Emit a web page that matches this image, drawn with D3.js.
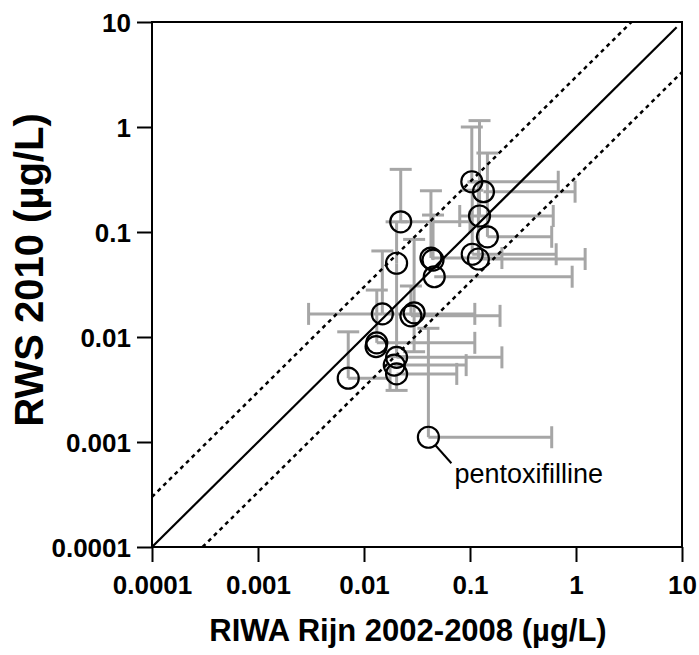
<!DOCTYPE html>
<html>
<head>
<meta charset="utf-8">
<script src="https://cdn.jsdelivr.net/npm/d3@7"></script>
<style>
  body { margin: 0; background: #fff; }
  text { font-family: "Liberation Sans", Arial, sans-serif; }
</style>
</head>
<body>
<svg id="chart"></svg>
<script>
// Data (µg/L)
const riwa    = [0.104, 0.134, 0.123, 0.146, 0.105, 0.12, 0.0222, 0.0203, 0.0428, 0.0448, 0.046, 0.0149, 0.0277, 0.0297, 0.0132, 0.013, 0.0203, 0.0193, 0.0203, 0.0071, 0.0405];
const rws     = [0.301, 0.242, 0.142, 0.09, 0.0614, 0.0553, 0.125, 0.0504, 0.0565, 0.054, 0.0375, 0.0166, 0.0159, 0.017, 0.0088, 0.0081, 0.0064, 0.0054, 0.00445, 0.00405, 0.00111];
const riwaMin = [null, null, 0.08, null, null, null, null, null, null, null, null, 0.003, null, null, null, null, null, null, null, null, null];
const riwaMax = [0.68, 0.98, 0.61, 0.59, 0.65, 1.22, 0.1, null, 0.2, null, 0.92, 0.111, 0.192, null, 0.111, null, 0.2, 0.092, 0.075, 0.0176, 0.59];
const rwsMin  = [null, null, null, null, null, null, null, 0.0065, null, null, null, null, null, 0.00724, null, null, null, null, 0.0031, null, null];
const rwsMax  = [1.0, null, 1.15, 0.565, 0.25, 0.3, 0.395, 0.125, 0.247, 0.145, null, 0.066, 0.0306, 0.085, 0.028, null, null, null, null, 0.0112, 0.0121];
const labels  = ["", "", "", "", "", "", "", "", "", "", "", "", "", "", "", "", "", "", "", "", "pentoxifilline"];

const tickValues = [0.0001, 0.001, 0.01, 0.1, 1, 10];
const xLabel = "RIWA Rijn 2002-2008 (µg/L)";
const yLabel = "RWS 2010 (µg/L)";

// Configuration
let width = 699, height = 655;
let marginLeft = 152, marginRight = 17, marginTop = 22, marginBottom = 108;
let tickLen = 15;
let capHalf = 11;
let barColor = "#a6a6a6";

const x = d3.scaleLog([0.0001, 10], [marginLeft, width - marginRight]);
const y = d3.scaleLog([0.0001, 10], [height - marginBottom, marginTop]);

const svg = d3.select("#chart")
    .attr("width", width)
    .attr("height", height)
    .attr("viewBox", [0, 0, width, height]);

const I = d3.range(riwa.length);

// error bars
const bars = svg.append("g")
    .attr("stroke", barColor)
    .attr("stroke-width", 3)
    .attr("fill", "none");

I.forEach(i => {
    const cx = x(riwa[i]), cy = y(rws[i]);
    [riwaMin[i], riwaMax[i]].forEach(v => {
        if (v == null) return;
        bars.append("line").attr("x1", cx).attr("x2", x(v)).attr("y1", cy).attr("y2", cy);
        bars.append("line").attr("x1", x(v)).attr("x2", x(v)).attr("y1", cy - capHalf).attr("y2", cy + capHalf);
    });
    [rwsMin[i], rwsMax[i]].forEach(v => {
        if (v == null) return;
        bars.append("line").attr("x1", cx).attr("x2", cx).attr("y1", cy).attr("y2", y(v));
        bars.append("line").attr("x1", cx - capHalf).attr("x2", cx + capHalf).attr("y1", y(v)).attr("y2", y(v));
    });
});

// 1:1 line and factor-3 lines
svg.append("line")
    .attr("x1", x(0.0001)).attr("y1", y(0.0001))
    .attr("x2", x(8.9)).attr("y2", y(8.9))
    .attr("stroke", "#000").attr("stroke-width", 2.2);

svg.append("line")
    .attr("x1", x(0.0001)).attr("y1", y(0.0003))
    .attr("x2", x(10 / 3)).attr("y2", y(10))
    .attr("stroke", "#000").attr("stroke-width", 2.5).attr("stroke-dasharray", "4,4");

svg.append("line")
    .attr("x1", x(0.0003)).attr("y1", y(0.0001))
    .attr("x2", x(10)).attr("y2", y(10 / 3))
    .attr("stroke", "#000").attr("stroke-width", 2.5).attr("stroke-dasharray", "4,4");

// points
svg.append("g")
    .selectAll("circle")
    .data(I)
    .join("circle")
    .attr("cx", i => x(riwa[i]))
    .attr("cy", i => y(rws[i]))
    .attr("r", 10.5)
    .attr("fill", "none")
    .attr("stroke", "#000")
    .attr("stroke-width", 2.2);

// annotation
I.filter(i => labels[i]).forEach(i => {
    const cx = x(riwa[i]), cy = y(rws[i]);
    svg.append("line")
        .attr("x1", cx + 7).attr("y1", cy + 8)
        .attr("x2", cx + 23).attr("y2", cy + 26)
        .attr("stroke", "#000").attr("stroke-width", 2);
    svg.append("text")
        .attr("x", cx + 26)
        .attr("y", cy + 46)
        .attr("font-size", 27)
        .text(labels[i]);
});

// axes
svg.append("g")
    .attr("transform", `translate(0,${height - marginBottom})`)
    .call(d3.axisBottom(x).tickValues(tickValues).tickFormat(d => String(d)).tickSize(tickLen).tickSizeOuter(0))
    .call(g => g.select(".domain").remove())
    .call(g => g.selectAll(".tick line").attr("stroke-width", 2))
    .call(g => g.selectAll(".tick text")
        .attr("dy", null).attr("y", 47)
        .attr("font-size", 26).attr("font-weight", "bold").attr("font-family", "Liberation Sans, Arial, sans-serif"));

svg.append("g")
    .attr("transform", `translate(${marginLeft},0)`)
    .call(d3.axisLeft(y).tickValues(tickValues).tickFormat(d => String(d)).tickSize(tickLen).tickSizeOuter(0))
    .call(g => g.select(".domain").remove())
    .call(g => g.selectAll(".tick line").attr("stroke-width", 2))
    .call(g => g.selectAll(".tick text")
        .attr("x", -tickLen - 6).attr("dy", "0.36em")
        .attr("font-size", 26).attr("font-weight", "bold").attr("font-family", "Liberation Sans, Arial, sans-serif"));

// frame
svg.append("rect")
    .attr("x", marginLeft).attr("y", marginTop)
    .attr("width", width - marginLeft - marginRight)
    .attr("height", height - marginTop - marginBottom)
    .attr("fill", "none").attr("stroke", "#000").attr("stroke-width", 2);

// axis titles
svg.append("text")
    .attr("x", 408).attr("y", 641)
    .attr("text-anchor", "middle")
    .attr("font-size", 31).attr("font-weight", "bold")
    .text(xLabel);

svg.append("text")
    .attr("transform", "translate(43,270) rotate(-90)")
    .attr("text-anchor", "middle")
    .attr("font-size", 40).attr("font-weight", "bold")
    .text(yLabel);
</script>
</body>
</html>
